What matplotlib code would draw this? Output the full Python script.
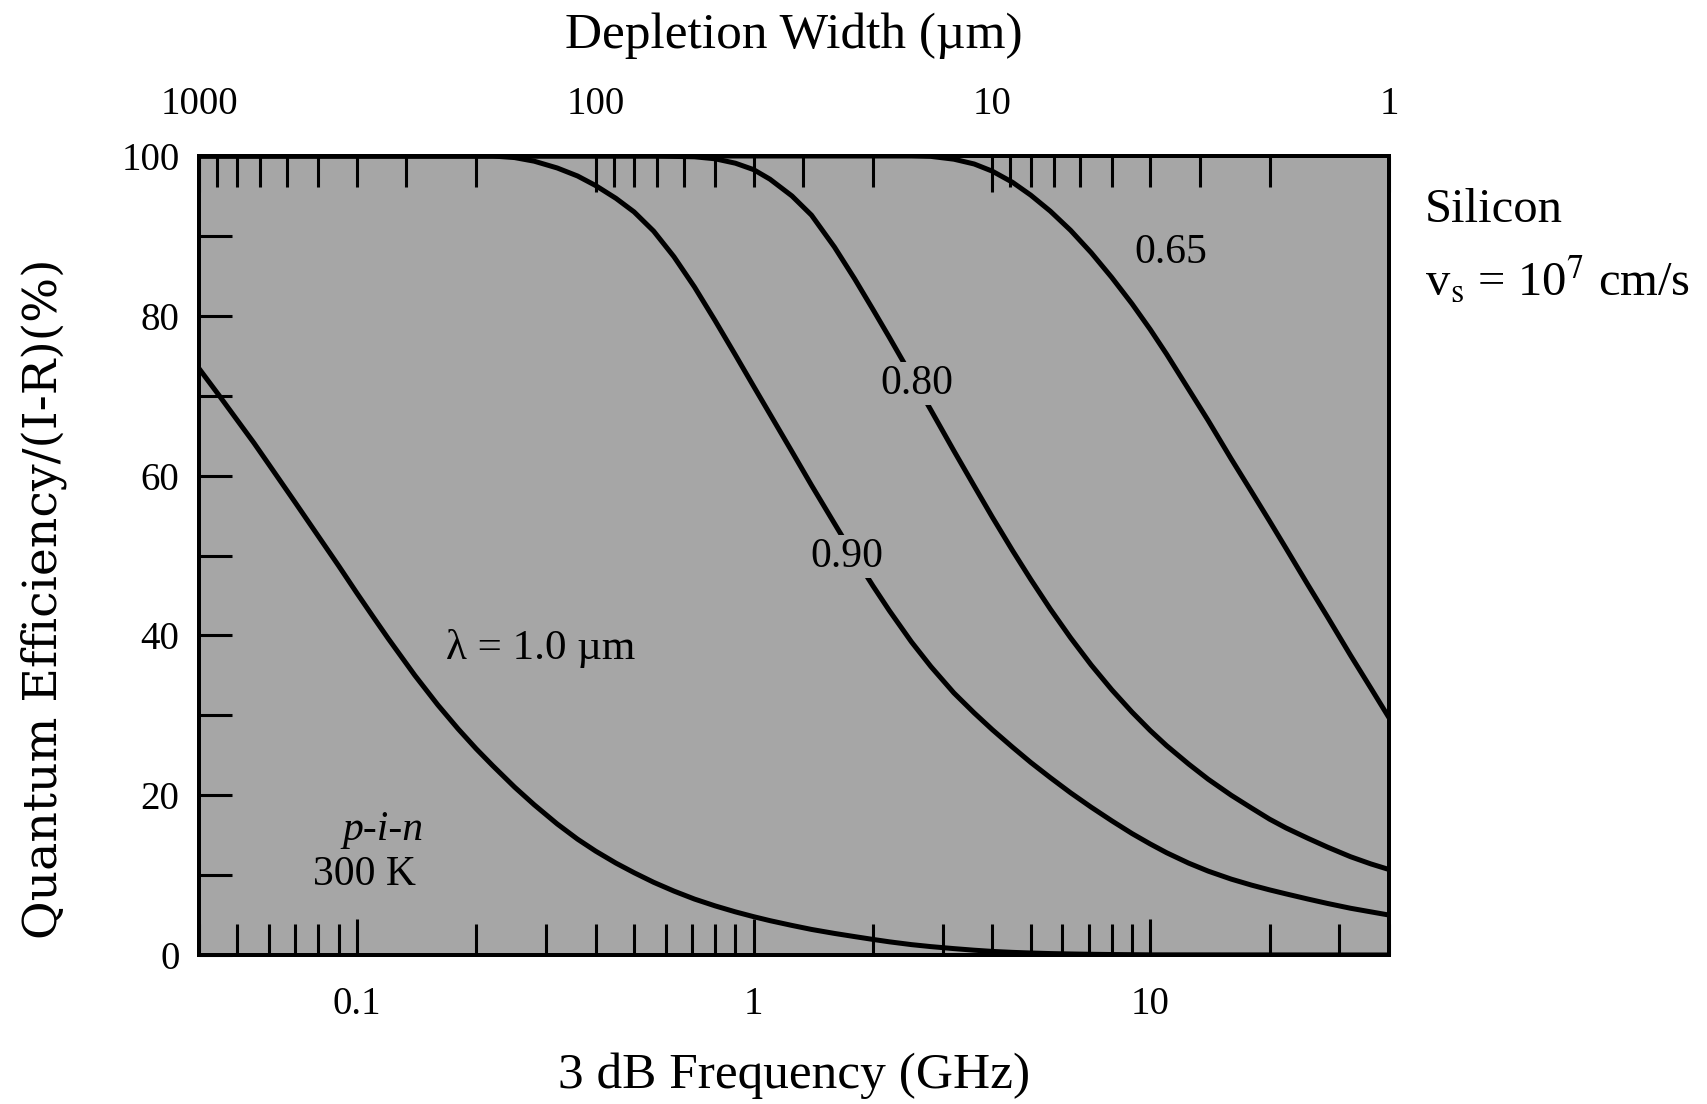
import matplotlib
matplotlib.use("Agg")
import matplotlib.pyplot as plt
from matplotlib.ticker import FixedLocator, LogLocator, NullFormatter

plt.rcParams['font.family'] = ['Liberation Serif', 'DejaVu Serif']
plt.rcParams['mathtext.fontset'] = 'stix'

# ---------------- data ----------------
# lambda = 1.0 um
freq_100 = [0.04, 0.045, 0.05, 0.055, 0.06, 0.07, 0.08, 0.09, 0.1, 0.11, 0.12, 0.14,
            0.16, 0.18, 0.2, 0.22, 0.25, 0.28, 0.32, 0.36, 0.4, 0.45, 0.5, 0.56,
            0.63, 0.71, 0.8, 0.9, 1.0, 1.1, 1.25, 1.4, 1.6, 1.8, 2.0, 2.2, 2.5,
            2.8, 3.2, 3.6, 4.0, 4.5, 5.0, 5.6, 6.3, 7.1, 8.0, 9.0, 10, 40]
eff_100 = [73.4, 70.0, 66.9, 64.1, 61.4, 56.6, 52.4, 48.7, 45.3, 42.3, 39.6, 35.0,
           31.3, 28.3, 25.8, 23.7, 21.0, 18.8, 16.4, 14.5, 13.0, 11.5, 10.3, 9.1,
           8.0, 7.0, 6.15, 5.4, 4.8, 4.3, 3.7, 3.2, 2.7, 2.3, 1.95, 1.65, 1.3,
           1.05, 0.8, 0.6, 0.45, 0.33, 0.25, 0.18, 0.13, 0.09, 0.06, 0.04, 0.02, 0.0]

# lambda = 0.90 um
freq_090 = [0.04, 0.22, 0.25, 0.28, 0.32, 0.36, 0.4, 0.45, 0.5, 0.56, 0.63, 0.71,
            0.8, 0.9, 1.0, 1.1, 1.25, 1.4, 1.6, 1.8, 2.0, 2.2, 2.5, 2.8, 3.2, 3.6,
            4.0, 4.5, 5.0, 5.6, 6.3, 7.1, 8.0, 9.0, 10, 11, 12.5, 14, 16, 18, 20,
            22, 25, 28, 32, 36, 40]
eff_090 = [100, 100, 99.8, 99.35, 98.5, 97.5, 96.3, 94.7, 93.0, 90.6, 87.4, 83.6,
           79.4, 75.1, 71.2, 67.7, 63.0, 58.8, 54.0, 49.8, 46.2, 43.1, 39.2, 36.1,
           32.8, 30.3, 28.2, 26.0, 24.1, 22.2, 20.3, 18.5, 16.8, 15.2, 13.9, 12.8,
           11.5, 10.5, 9.5, 8.75, 8.15, 7.65, 7.0, 6.45, 5.85, 5.4, 5.0]

# lambda = 0.80 um
freq_080 = [0.04, 0.56, 0.63, 0.71, 0.8, 0.9, 1.0, 1.1, 1.25, 1.4, 1.6, 1.8, 2.0,
            2.2, 2.5, 2.8, 3.2, 3.6, 4.0, 4.5, 5.0, 5.6, 6.3, 7.1, 8.0, 9.0, 10,
            11, 12.5, 14, 16, 18, 20, 22, 25, 28, 32, 36, 40]
eff_080 = [100, 100, 99.95, 99.9, 99.65, 99.1, 98.3, 97.1, 95.0, 92.6, 88.6, 84.6,
           80.8, 77.3, 72.5, 68.2, 63.1, 58.7, 54.8, 50.6, 47.0, 43.3, 39.7, 36.3,
           33.2, 30.4, 28.1, 26.2, 23.9, 22.0, 20.0, 18.4, 17.0, 15.9, 14.6, 13.5,
           12.3, 11.4, 10.7]

# lambda = 0.65 um
freq_065 = [0.04, 2.5, 2.8, 3.2, 3.6, 4.0, 4.5, 5.0, 5.6, 6.3, 7.1, 8.0, 9.0, 10,
            11, 12.5, 14, 16, 18, 20, 22, 25, 28, 32, 36, 40]
eff_065 = [100, 100, 99.95, 99.6, 99.0, 98.1, 96.7, 95.1, 93.1, 90.7, 87.9, 84.8,
           81.5, 78.3, 75.2, 70.8, 66.9, 62.1, 58.0, 54.3, 50.9, 46.3, 42.3, 37.5,
           33.4, 29.7]

freq_ticks = [0.1, 1, 10]
freq_tick_labels = ['0.1', '1', '10']
width_ticks = [1000, 100, 10, 1]
width_tick_labels = ['1000', '100', '10', '1']
eff_ticks = [0, 20, 40, 60, 80, 100]
eff_tick_labels = ['0', '20', '40', '60', '80', '100']
eff_minor = [10, 30, 50, 70, 90]

curves = [(freq_100, eff_100), (freq_090, eff_090),
          (freq_080, eff_080), (freq_065, eff_065)]

# ---------------- figure ----------------
BG = '#a6a6a6'
W, H = 1708, 1104
fig = plt.figure(figsize=(W / 100, H / 100), dpi=100)
fig.patch.set_facecolor('white')
ax = fig.add_axes([199 / W, 1 - 955 / H, (1389 - 199) / W, (955 - 156) / H])
ax.set_facecolor(BG)
ax.set_xscale('log')
ax.set_xlim(0.04, 40)
ax.set_ylim(0, 100)

for f, e in curves:
    ax.plot(f, e, color='black', lw=3.6, zorder=3, solid_joinstyle='round',
            solid_capstyle='butt')

ax.xaxis.set_major_locator(FixedLocator(freq_ticks))
ax.set_xticklabels(freq_tick_labels)
ax.xaxis.set_minor_locator(LogLocator(base=10, subs=range(2, 10), numticks=20))
ax.xaxis.set_minor_formatter(NullFormatter())
ax.set_yticks(eff_ticks)
ax.set_yticklabels(eff_tick_labels)
ax.yaxis.set_minor_locator(FixedLocator(eff_minor))

ax.tick_params(axis='x', which='major', direction='in', bottom=True, top=False,
               length=26, width=2.2, pad=22, labelsize=28)
ax.tick_params(axis='x', which='minor', direction='in', bottom=True, top=False,
               length=22, width=2.2)
ax.tick_params(axis='y', which='both', direction='in', left=True, right=False,
               length=24, width=2.2, pad=14, labelsize=28)

ax2 = ax.twiny()
ax2.set_xscale('log')
ax2.set_xlim(1000, 1)
ax2.xaxis.set_major_locator(FixedLocator(width_ticks))
ax2.set_xticklabels(width_tick_labels)
ax2.xaxis.set_minor_locator(LogLocator(base=10, subs=range(2, 10), numticks=20))
ax2.xaxis.set_minor_formatter(NullFormatter())
ax2.tick_params(axis='x', which='major', direction='in', top=True, bottom=False,
                length=26, width=2.2, pad=24, labelsize=28)
ax2.tick_params(axis='x', which='minor', direction='in', top=True, bottom=False,
                length=22, width=2.2)

for a in (ax, ax2):
    for s in a.spines.values():
        s.set_linewidth(2.8)

ax.set_xlabel('3 dB Frequency (GHz)', fontsize=37, va='center')
ax.xaxis.set_label_coords(0.5, -0.151)
ax2.set_xlabel('Depletion Width (\u00b5m)', fontsize=37, va='center')
ax2.xaxis.set_label_coords(0.5, 1.150)
ax.set_ylabel('Quantum Efficiency/(I-R)(%)', fontsize=34, va='center',
              family=['DejaVu Serif'])
ax.yaxis.set_label_coords(-0.1306, 0.4456)

lab_kw = dict(fontsize=30, color='black', zorder=5, ha='center', va='center')
box = dict(facecolor=BG, edgecolor='none', pad=1.5)
ax.text(11.3, 87.9, '0.65', **lab_kw)
ax.text(2.58, 71.5, '0.80', bbox=box, **lab_kw)
ax.text(1.72, 49.9, '0.90', bbox=box, **lab_kw)
ax.text(0.168, 38.4, '\u03bb = 1.0 \u00b5m', fontsize=31, ha='left', va='center', zorder=5)
ax.text(0.1165, 15.7, 'p-i-n', fontsize=30, style='italic', ha='center', va='center', zorder=5)
ax.text(0.1046, 10.1, '300 K', fontsize=30, ha='center', va='center', zorder=5)

fig.text(1425 / W, 1 - 210 / H, 'Silicon', fontsize=35, ha='left', va='center')
fig.text(1425 / W, 1 - 280 / H, r'v$_{\mathrm{s}}$ = 10$^{7}$ cm/s', fontsize=35,
         ha='left', va='center')

fig.savefig('out.png', dpi=100, facecolor='white')
